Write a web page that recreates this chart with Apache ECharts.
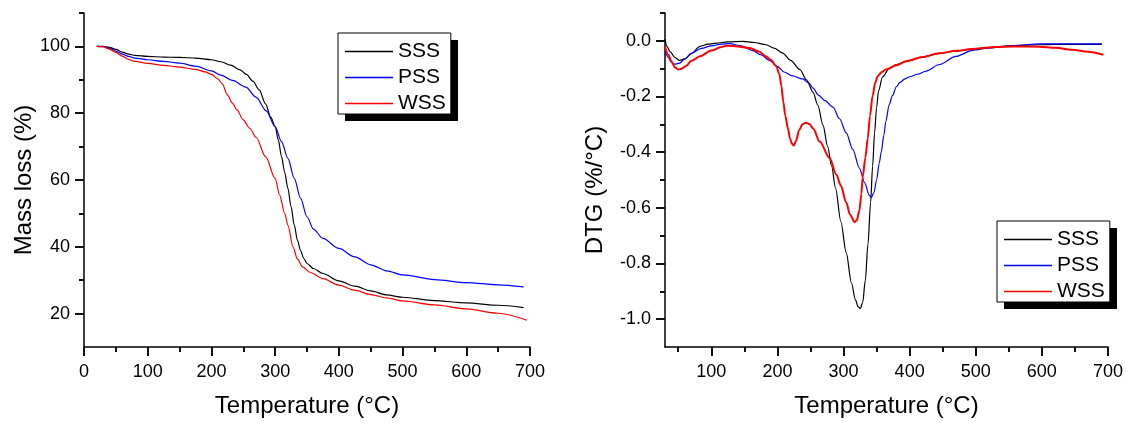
<!DOCTYPE html>
<html>
<head>
<meta charset="utf-8">
<script src="https://cdn.jsdelivr.net/npm/echarts@6/dist/echarts.min.js"></script>
</head>
<body style="margin:0;background:#fff">
<div id="chart" style="width:1126px;height:423px"></div>
<script>
// ---- Data ----
const seriesNames = ['SSS', 'PSS', 'WSS'];
const seriesColors = ['#000000', '#0000ff', '#ff0000'];

// TG: [temperature °C, mass %]
const tgSSS = [[20,100],[30,100],[40,99.7],[50,99.1],[60,98.3],[70,97.7],[80,97.3],[100,97.0],[125,96.8],[150,96.7],[175,96.5],[200,96.0],[215,95.4],[230,94.4],[245,93.0],[255,91.6],[265,89.6],[275,87.0],[285,82.8],[293,78.8],[300,76.0],[305,72.0],[310,67.0],[315,62.3],[320,57.5],[325,52.0],[330,46.5],[335,42.0],[340,38.8],[345,36.5],[350,35.0],[360,33.5],[375,32.0],[400,29.8],[425,28.2],[450,26.8],[475,25.6],[500,24.9],[550,23.9],[600,23.2],[650,22.5],[690,21.8]];
const tgPSS = [[20,100],[30,99.9],[40,99.4],[50,98.6],[60,97.7],[70,97.0],[80,96.5],[100,96.0],[125,95.5],[150,95.0],[175,94.1],[200,92.7],[215,91.4],[233,89.8],[254,87.8],[270,84.8],[286,80.7],[300,76.0],[310,71.5],[320,66.5],[330,60.5],[340,54.5],[350,49.0],[360,45.3],[375,42.5],[400,39.5],[425,37.0],[450,34.6],[475,32.8],[500,31.6],[550,30.2],[600,29.3],[650,28.6],[690,28.0]];
const tgWSS = [[20,100],[30,99.9],[40,99.2],[50,98.2],[60,97.1],[70,96.1],[80,95.5],[100,94.9],[125,94.3],[150,93.8],[175,93.1],[190,92.4],[200,91.6],[210,90.3],[217,88.8],[225,85.5],[233,83.0],[240,81.0],[250,78.0],[260,75.5],[270,72.8],[285,67.0],[300,60.5],[307,55.5],[315,50.0],[320,46.5],[328,40.0],[335,36.3],[343,34.0],[355,32.3],[375,30.5],[400,28.5],[425,27.0],[450,25.7],[475,24.7],[500,23.8],[550,22.6],[600,21.4],[650,20.1],[695,18.0]];

// DTG: [temperature °C, %/°C]
const dtgSSS = [[30,0.006],[33,-0.02],[38,-0.04],[45,-0.06],[52,-0.07],[60,-0.065],[70,-0.045],[83,-0.02],[95,-0.012],[108,-0.008],[125,-0.004],[148,-0.002],[165,-0.006],[183,-0.014],[195,-0.026],[208,-0.044],[220,-0.07],[234,-0.103],[244,-0.14],[254,-0.185],[261,-0.23],[269,-0.303],[276,-0.38],[282,-0.45],[288,-0.53],[296,-0.65],[304,-0.76],[312,-0.87],[318,-0.93],[322,-0.955],[325.5,-0.962],[329,-0.94],[333,-0.86],[337,-0.73],[341,-0.58],[344,-0.45],[347,-0.33],[350,-0.24],[353,-0.18],[359,-0.13],[369,-0.1],[380,-0.085],[395,-0.073],[420,-0.058],[445,-0.045],[470,-0.037],[495,-0.03],[520,-0.024],[545,-0.019],[570,-0.016],[595,-0.014],[620,-0.013],[650,-0.013],[690,-0.013]];
const dtgPSS = [[30,-0.035],[35,-0.06],[40,-0.078],[45,-0.084],[52,-0.08],[60,-0.065],[70,-0.045],[85,-0.027],[100,-0.018],[115,-0.012],[128,-0.01],[145,-0.018],[163,-0.035],[175,-0.05],[188,-0.07],[200,-0.092],[210,-0.112],[223,-0.126],[238,-0.137],[248,-0.153],[254,-0.17],[262,-0.195],[272,-0.215],[284,-0.238],[294,-0.28],[304,-0.33],[314,-0.39],[324,-0.457],[332,-0.51],[339,-0.555],[342,-0.563],[346,-0.545],[350,-0.5],[354,-0.44],[357,-0.4],[361,-0.34],[364,-0.29],[369,-0.23],[374,-0.197],[380,-0.165],[385,-0.15],[393,-0.137],[400,-0.129],[412,-0.12],[425,-0.109],[445,-0.085],[470,-0.056],[495,-0.034],[520,-0.026],[545,-0.02],[570,-0.015],[596,-0.011],[650,-0.011],[691,-0.011]];
const dtgWSS = [[30,-0.02],[35,-0.05],[40,-0.075],[45,-0.095],[50,-0.103],[55,-0.1],[62,-0.09],[70,-0.072],[83,-0.055],[100,-0.035],[115,-0.022],[123,-0.018],[140,-0.02],[158,-0.026],[172,-0.038],[183,-0.056],[190,-0.068],[198,-0.09],[203,-0.12],[206,-0.162],[209,-0.22],[212,-0.27],[216,-0.315],[219,-0.35],[222,-0.37],[225,-0.376],[228,-0.36],[233,-0.32],[238,-0.3],[243,-0.294],[249,-0.3],[254,-0.315],[264,-0.362],[279,-0.421],[289,-0.48],[296,-0.52],[304,-0.58],[310,-0.625],[316.6,-0.651],[320,-0.645],[324,-0.61],[327,-0.55],[329,-0.49],[333,-0.42],[336.7,-0.35],[340,-0.27],[344,-0.197],[348,-0.15],[352,-0.126],[358,-0.112],[364,-0.103],[380,-0.088],[395,-0.073],[420,-0.058],[445,-0.045],[470,-0.036],[495,-0.029],[520,-0.024],[545,-0.021],[570,-0.02],[596,-0.021],[620,-0.025],[646,-0.032],[670,-0.039],[693,-0.05]];

// Tick values
const tgTempTicks = [0,100,200,300,400,500,600,700];
const tgTempMinor = [50,150,250,350,450,550,650];
const tgMassTicks = [20,40,60,80,100];
const tgMassMinor = [30,50,70,90,110];
const dtgTempTicks = [100,200,300,400,500,600,700];
const dtgTempMinor = [50,150,250,350,450,550,650];
const dtgTicks = [-1.0,-0.8,-0.6,-0.4,-0.2,0.0];
const dtgMinor = [-0.9,-0.7,-0.5,-0.3,-0.1,0.1];

const axisTitles = { temp: 'Temperature (°C)', mass: 'Mass loss (%)', dtg: 'DTG (%/°C)' };

// ---- Chart ----
const FONT = "'Liberation Sans', Arial, sans-serif";
const chart = echarts.init(document.getElementById('chart'));

// axis carrying line, labels and title
function labelAxis(o) {
  return Object.assign({
    type: 'value',
    axisLine: { show: true, onZero: false, lineStyle: { color: '#000', width: 1.5 } },
    axisTick: { show: false },
    axisLabel: { show: true, color: '#000', fontSize: 18, fontFamily: FONT, customValues: o.ticks, margin: o.margin },
    splitLine: { show: false },
    nameTextStyle: { color: '#000', fontSize: 24, fontFamily: FONT },
    nameLocation: 'middle'
  }, o.extra);
}
// axis carrying only ticks
function tickAxis(o) {
  return Object.assign({
    type: 'value',
    axisLine: { show: false, onZero: false },
    axisTick: { show: true, length: o.len, lineStyle: { color: '#111', width: 2 }, customValues: o.ticks },
    axisLabel: { show: false },
    splitLine: { show: false }
  }, o.extra);
}

const legendBase = {
  orient: 'vertical',
  backgroundColor: '#fff',
  borderColor: '#000',
  borderWidth: 1,
  padding: [8, 5, 0, 7],
  itemWidth: 48,
  itemHeight: 1.4,
  itemGap: 5,
  icon: 'rect',
  textStyle: { color: '#000', fontSize: 21, lineHeight: 21, fontFamily: FONT },
  data: seriesNames,
  selectedMode: false,
  z: 10
};

function lineSeries(name, idx, data, axisIdx, width) {
  return {
    name: name, type: 'line', data: data,
    xAxisIndex: axisIdx, yAxisIndex: axisIdx,
    showSymbol: false, symbol: 'none',
    smooth: 0.3, smoothMonotone: 'x',
    lineStyle: { color: seriesColors[idx], width: width },
    itemStyle: { color: seriesColors[idx] }
  };
}

chart.setOption({
  animation: false,
  grid: [
    { left: 84, right: 596, top: 13, bottom: 72 },
    { left: 665, right: 17, top: 13, bottom: 72 }
  ],
  legend: [
    Object.assign({}, legendBase, { left: 338, top: 33 }),
    Object.assign({}, legendBase, { left: 997, top: 221 })
  ],
  // legend drop shadows
  graphic: [
    { type: 'rect', left: 345, top: 40, shape: { width: 113, height: 81 }, style: { fill: '#000' }, z: 1 },
    { type: 'rect', left: 1004, top: 228, shape: { width: 113, height: 81 }, style: { fill: '#000' }, z: 1 }
  ],
  xAxis: [
    labelAxis({ ticks: tgTempTicks, margin: 16, extra: { gridIndex: 0, position: 'bottom', min: 0, max: 700, name: axisTitles.temp, nameGap: 47 } }),
    tickAxis({ ticks: tgTempTicks, len: 9, extra: { gridIndex: 0, position: 'bottom', min: 0, max: 700 } }),
    tickAxis({ ticks: tgTempMinor, len: 5, extra: { gridIndex: 0, position: 'bottom', min: 0, max: 700 } }),
    labelAxis({ ticks: dtgTempTicks, margin: 16, extra: { gridIndex: 1, position: 'bottom', min: 30, max: 700, name: axisTitles.temp, nameGap: 47 } }),
    tickAxis({ ticks: dtgTempTicks, len: 9, extra: { gridIndex: 1, position: 'bottom', min: 30, max: 700 } }),
    tickAxis({ ticks: dtgTempMinor, len: 5, extra: { gridIndex: 1, position: 'bottom', min: 30, max: 700 } })
  ],
  yAxis: [
    labelAxis({ ticks: tgMassTicks, margin: 14, extra: { gridIndex: 0, position: 'left', min: 10, max: 110, name: axisTitles.mass, nameGap: 48 } }),
    tickAxis({ ticks: tgMassTicks, len: 9, extra: { gridIndex: 0, position: 'left', min: 10, max: 110 } }),
    tickAxis({ ticks: tgMassMinor, len: 5, extra: { gridIndex: 0, position: 'left', min: 10, max: 110 } }),
    (function () {
      const a = labelAxis({ ticks: dtgTicks, margin: 14, extra: { gridIndex: 1, position: 'left', min: -1.1, max: 0.1, name: axisTitles.dtg, nameGap: 58 } });
      a.axisLabel.formatter = function (v) { return Number(v).toFixed(1); };
      a.nameTextStyle = Object.assign({}, a.nameTextStyle, { padding: [0, 20, 0, 0] });
      return a;
    })(),
    tickAxis({ ticks: dtgTicks, len: 9, extra: { gridIndex: 1, position: 'left', min: -1.1, max: 0.1 } }),
    tickAxis({ ticks: dtgMinor, len: 5, extra: { gridIndex: 1, position: 'left', min: -1.1, max: 0.1 } })
  ],
  series: [
    lineSeries(seriesNames[0], 0, tgSSS, 0, 1.2),
    lineSeries(seriesNames[1], 1, tgPSS, 0, 1.2),
    lineSeries(seriesNames[2], 2, tgWSS, 0, 1.2),
    lineSeries(seriesNames[0], 0, dtgSSS, 3, 1.2),
    lineSeries(seriesNames[1], 1, dtgPSS, 3, 1.2),
    lineSeries(seriesNames[2], 2, dtgWSS, 3, 2)
  ]
});
</script>
</body>
</html>
